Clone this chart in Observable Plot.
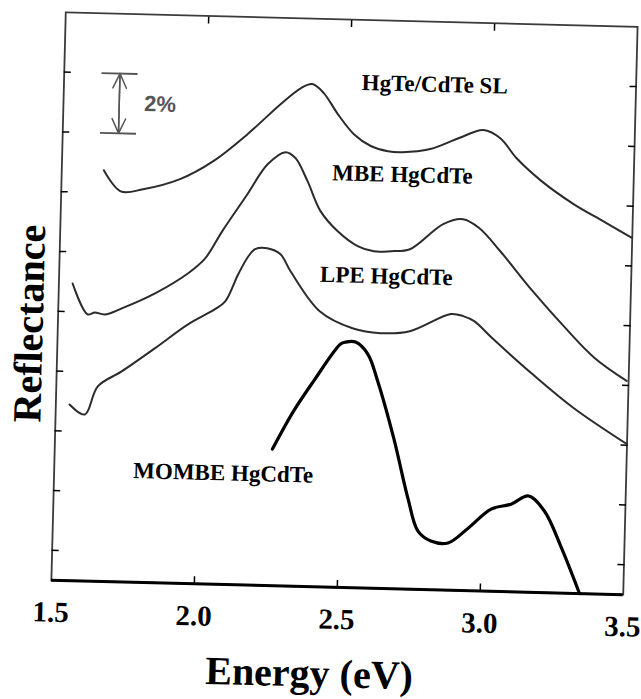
<!DOCTYPE html>
<html><head><meta charset="utf-8">
<script src="https://cdn.jsdelivr.net/npm/d3@7"></script>
<script src="https://cdn.jsdelivr.net/npm/@observablehq/plot@0.6"></script>
<style>
html,body{margin:0;padding:0;background:#fff;}
#chart svg{display:block;transform:rotate(1.45deg);transform-origin:344px 303px;}
#chart svg g[aria-label="x-axis tick label"] text{font-weight:bold;}
</style></head><body><div id="chart"></div>
<script>
// Energy (eV) and reflectance (% , offset for display)
const slEnergy = [1.647,1.708,1.786,1.914,2.029,2.146,2.259,2.328,2.368,2.409,2.460,2.518,2.578,2.638,2.688,2.786,2.886,2.970,3.030,3.088,3.178,3.292,3.395,3.499];
const slRefl   = [13.75,13.06,13.15,13.52,14.15,15.08,16.11,16.66,16.81,16.52,15.83,15.17,14.79,14.63,14.61,14.74,15.13,15.42,15.16,14.51,13.76,13.02,12.48,11.94];

const mbeEnergy = [1.548,1.603,1.628,1.663,1.722,1.837,1.951,2.009,2.066,2.151,2.219,2.281,2.316,2.360,2.408,2.470,2.541,2.598,2.658,2.724,2.838,2.907,2.964,3.040,3.156,3.274,3.379,3.493];
const mbeRefl   = [9.94,8.92,8.99,8.93,9.15,9.68,10.38,10.89,11.81,13.07,14.09,14.51,14.32,13.56,12.57,11.91,11.43,11.27,11.29,11.37,12.24,12.42,12.14,11.38,10.08,8.87,7.89,7.15];

const lpeEnergy = [1.548,1.602,1.645,1.727,1.841,1.955,2.048,2.083,2.126,2.160,2.183,2.225,2.272,2.308,2.414,2.530,2.629,2.731,2.873,2.916,2.955,3.019,3.163,3.310,3.499];
const lpeRefl   = [5.89,5.57,6.52,7.04,7.84,8.67,9.20,9.47,10.39,11.00,11.24,11.28,11.09,10.54,9.22,8.68,8.54,8.63,9.24,9.18,9.02,8.47,7.30,6.20,5.04];

const mombeEnergy = [2.261,2.331,2.399,2.490,2.507,2.542,2.586,2.623,2.684,2.739,2.777,2.823,2.883,2.952,3.031,3.100,3.160,3.217,3.280,3.347];
const mombeRefl   = [4.57,5.85,6.88,8.14,8.21,8.22,7.83,6.93,5.04,3.04,1.95,1.63,1.58,2.09,2.75,2.93,3.22,2.73,1.51,0];

const labelNames = ["HgTe/CdTe SL","MBE HgCdTe","LPE HgCdTe","MOMBE HgCdTe"];
const labelEnergy = [2.796,2.691,2.644,2.091];
const labelRefl = [16.90,13.86,10.45,3.73];

const xTickLabels = [1.5,2.0,2.5,3.0,3.5];
const xInnerTicks = [2.0,2.5,3.0];
const yTicks = [1,3,5,7,9,11,13,15,17];

// 2% scale bar
const barEnergy = [1.695];
const barLow = [15];
const barHigh = [17];
const barCapFrom = [1.632];
const barCapTo = [1.758];
const barText = ["2%"];
const barTextEnergy = [1.838];
const barTextRefl = [16.0];

const xTitle = "Energy (eV)";
const yTitle = "Reflectance";

const toRows = (xs, ys) => xs.map((x, i) => ({x, y: ys[i]}));
const sl = toRows(slEnergy, slRefl);
const mbe = toRows(mbeEnergy, mbeRefl);
const lpe = toRows(lpeEnergy, lpeRefl);
const mombe = toRows(mombeEnergy, mombeRefl);
const labels = labelNames.map((t, i) => ({t, x: labelEnergy[i], y: labelRefl[i]}));
const caps = [barLow[0], barHigh[0]].map(y => ({y, x1: barCapFrom[0], x2: barCapTo[0]}));

const serif = "'Liberation Serif','Times New Roman',serif";
const thin = {x: "x", y: "y", stroke: "#2b2b2b", strokeWidth: 2, curve: "catmull-rom"};

const chart = Plot.plot({
  width: 641, height: 699,
  marginLeft: 58, marginRight: 11, marginTop: 19, marginBottom: 112,
  style: {fontFamily: serif, background: "transparent", overflow: "visible", color: "#000"},
  x: {domain: [1.5, 3.5]},
  y: {domain: [0, 19]},
  marks: [
    Plot.frame({stroke: "#3a3a3a", strokeWidth: 1.8}),
    Plot.ruleY([0], {stroke: "#000", strokeWidth: 3}),
    Plot.axisX({anchor: "bottom", ticks: xTickLabels, tickSize: 0, tickPadding: 21, tickFormat: d3.format(".1f"), fontSize: 29, fontWeight: "bold", fontFamily: serif, label: null}),
    Plot.axisX({anchor: "bottom", ticks: xInnerTicks, tickSize: -7, tickFormat: () => "", label: null, strokeWidth: 1.5}),
    Plot.axisX({anchor: "top", ticks: xInnerTicks, tickSize: -7, tickFormat: () => "", label: null, strokeWidth: 1.5}),
    Plot.axisY({anchor: "left", ticks: yTicks, tickSize: -7, tickFormat: () => "", label: null, strokeWidth: 1.5}),
    Plot.axisY({anchor: "right", ticks: yTicks, tickSize: -7, tickFormat: () => "", label: null, strokeWidth: 1.5}),
    Plot.line(sl, thin),
    Plot.line(mbe, thin),
    Plot.line(lpe, thin),
    Plot.line(mombe, {x: "x", y: "y", stroke: "#000", strokeWidth: 3.2, curve: "catmull-rom"}),
    Plot.text(labels, {x: "x", y: "y", text: "t", fontSize: 23, fontWeight: "bold", fontFamily: serif, fill: "#000"}),
    Plot.ruleY(caps, {y: "y", x1: "x1", x2: "x2", stroke: "#555", strokeWidth: 1.8}),
    Plot.arrow([0], {x1: () => barEnergy[0], x2: () => barEnergy[0], y1: () => barLow[0], y2: () => barHigh[0], stroke: "#555", strokeWidth: 1.5, headLength: 16, headAngle: 50}),
    Plot.arrow([0], {x1: () => barEnergy[0], x2: () => barEnergy[0], y1: () => barHigh[0], y2: () => barLow[0], stroke: "#555", strokeWidth: 1.5, headLength: 16, headAngle: 50}),
    Plot.text(barText, {x: () => barTextEnergy[0], y: () => barTextRefl[0], text: d => d, fontSize: 22, fontWeight: "bold", fontFamily: "'Liberation Sans',Arial,sans-serif", fill: "#555"}),
    Plot.text([yTitle], {frameAnchor: "left", textAnchor: "middle", lineAnchor: "middle", text: d => d, rotate: -90, dx: -28, dy: 28, fontSize: 40, fontWeight: "bold", fontFamily: serif, fill: "#000"}),
    Plot.text([xTitle], {frameAnchor: "bottom", textAnchor: "middle", lineAnchor: "middle", text: d => d, dx: -26, dy: 87, fontSize: 40, fontWeight: "bold", fontFamily: serif, fill: "#000"})
  ]
});
document.getElementById("chart").appendChild(chart);
</script></body></html>
